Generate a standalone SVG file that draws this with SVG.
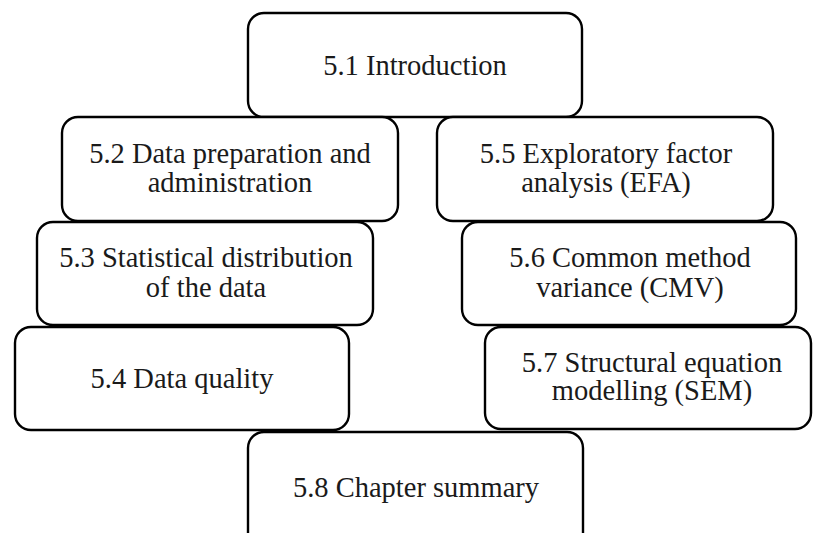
<svg xmlns="http://www.w3.org/2000/svg" width="813" height="533" viewBox="0 0 813 533">
  <style>
    .box { fill: #ffffff; stroke: #000000; stroke-width: 2.4; }
    .lbl { font-family: "Liberation Serif", "Times New Roman", serif; font-size: 28.5px; fill: #1a1a1a; text-anchor: middle; }
  </style>
  <rect width="813" height="533" fill="#ffffff"/>

  <!-- chapter sections, stacked boxes -->
  <g id="n51">
    <rect class="box" x="248" y="13" width="334" height="104" rx="16"/>
    <text class="lbl" x="415" y="75">5.1 Introduction</text>
  </g>
  <g id="n52">
    <rect class="box" x="62" y="117" width="336" height="104" rx="16"/>
    <text class="lbl" x="230" y="163">5.2 Data preparation and</text>
    <text class="lbl" x="230" y="192">administration</text>
  </g>
  <g id="n55">
    <rect class="box" x="437" y="117" width="336" height="104" rx="16"/>
    <text class="lbl" x="606" y="163">5.5 Exploratory factor</text>
    <text class="lbl" x="606" y="192">analysis (EFA)</text>
  </g>
  <g id="n53">
    <rect class="box" x="37" y="222" width="336" height="103" rx="16"/>
    <text class="lbl" x="206" y="267">5.3 Statistical distribution</text>
    <text class="lbl" x="206" y="297">of the data</text>
  </g>
  <g id="n56">
    <rect class="box" x="462" y="222" width="334" height="103" rx="16"/>
    <text class="lbl" x="630" y="267">5.6 Common method</text>
    <text class="lbl" x="630" y="297">variance (CMV)</text>
  </g>
  <g id="n54">
    <rect class="box" x="15" y="327" width="334" height="103" rx="16"/>
    <text class="lbl" x="182" y="388">5.4 Data quality</text>
  </g>
  <g id="n57">
    <rect class="box" x="485" y="327" width="326" height="102" rx="16"/>
    <text class="lbl" x="652" y="372">5.7 Structural equation</text>
    <text class="lbl" x="652" y="400">modelling (SEM)</text>
  </g>
  <g id="n58">
    <rect class="box" x="248" y="432" width="335" height="120" rx="16"/>
    <text class="lbl" x="416" y="497">5.8 Chapter summary</text>
  </g>

  <g id="connectors"/>
</svg>
